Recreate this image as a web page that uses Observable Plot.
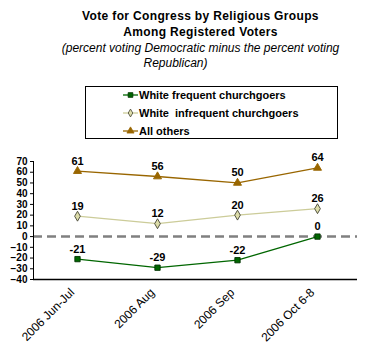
<!DOCTYPE html>
<html><head><meta charset="utf-8">
<script src="https://cdn.jsdelivr.net/npm/d3@7"></script>
<script src="https://cdn.jsdelivr.net/npm/@observablehq/plot@0.6"></script>
<style>
body{margin:0;background:#fff;font-family:Arial,"Liberation Sans",sans-serif;}
#wrap{position:relative;width:365px;height:360px;overflow:hidden;background:#fff;}
.t{position:absolute;width:365px;text-align:center;white-space:nowrap;line-height:14px;color:#000;}
#legend{position:absolute;left:85px;top:86px;width:251px;height:51px;border:1px solid #000;background:#fff;}
.row{position:absolute;left:37px;height:16px;display:flex;align-items:center;font-weight:bold;font-size:11px;white-space:pre;}
.row svg{margin-right:1px;}
#chart{position:absolute;left:0;top:150px;}
</style></head><body>
<div id="wrap">
  <div class="t" style="top:9px;left:18px;font-weight:bold;font-size:12px;letter-spacing:0.35px;">Vote for Congress by Religious Groups</div>
  <div class="t" style="top:25px;left:18px;font-weight:bold;font-size:12px;letter-spacing:0.35px;">Among Registered Voters</div>
  <div class="t" style="top:41px;left:18px;font-style:italic;font-size:12px;">(percent voting Democratic minus the percent voting</div>
  <div class="t" style="top:56px;left:-7px;font-style:italic;font-size:12px;">Republican)</div>
  <div id="legend"></div>
  <div id="chart"></div>
</div>
<script>
const categories = ["2006 Jun-Jul", "2006 Aug", "2006 Sep", "2006 Oct 6-8"];
const seriesNames = ["White frequent churchgoers", "White  infrequent churchgoers", "All others"];
const frequent = [-21, -29, -22, 0];
const infrequent = [19, 12, 20, 26];
const others = [61, 56, 50, 64];
const yTicks = [-40, -30, -20, -10, 0, 10, 20, 30, 40, 50, 60, 70];

const colors = ["#006600", "#CCCC99", "#996600"];
const symbols = ["square", "diamond", "triangle"];
const markerFill = ["#006600", "#DDDDAA", "#996600"];
const markerStroke = ["#003300", "#444433", "#996600"];

const valuesBySeries = [frequent, infrequent, others];
const data = [];
valuesBySeries.forEach((vals, s) => {
  vals.forEach((v, i) => data.push({series: seriesNames[s], s, cat: categories[i], value: v}));
});

// legend
const legend = document.getElementById("legend");
seriesNames.forEach((name, s) => {
  const row = document.createElement("div");
  row.className = "row";
  row.style.top = (0 + s * 18) + "px";
  const sw = d3.create("svg").attr("width", 15).attr("height", 10);
  sw.append("line").attr("x1", 0).attr("x2", 15).attr("y1", 5).attr("y2", 5)
    .attr("stroke", colors[s]).attr("stroke-width", 1.3);
  const sym = d3.symbol().type(s === 0 ? d3.symbolSquare : s === 1 ? d3.symbolDiamond : d3.symbolTriangle)
    .size(s === 1 ? 18 : 22);
  sw.append("path").attr("d", sym()).attr("transform", "translate(7.5,5)")
    .attr("fill", markerFill[s]).attr("stroke", markerStroke[s]).attr("stroke-width", 0.8);
  row.appendChild(sw.node());
  const span = document.createElement("span");
  span.textContent = name;
  row.appendChild(span);
  legend.appendChild(row);
});

const chart = Plot.plot({
  width: 365,
  height: 210,
  marginTop: 11,
  marginBottom: 81,
  marginLeft: 33,
  marginRight: 8,
  style: {fontFamily: "Arial, 'Liberation Sans', sans-serif", background: "#fff", color: "#000"},
  x: {type: "point", domain: categories, range: [76.3, 317.3], padding: 0},
  y: {domain: [-40, 70]},
  color: {domain: seriesNames, range: colors},
  symbol: {domain: seriesNames, range: symbols},
  marks: [
    Plot.ruleY([0], {stroke: "#808080", strokeWidth: 2.5, strokeDasharray: "9,5"}),
    Plot.line(data, {x: "cat", y: "value", z: "series", stroke: "series", strokeWidth: 1.3}),
    Plot.dot(data, {x: "cat", y: "value", symbol: "series", r: 3,
      fill: d => markerFill[d.s], stroke: d => markerStroke[d.s], strokeWidth: 0.9}),
    Plot.text(data, {x: "cat", y: "value", text: d => String(d.value), dy: -10,
      fontWeight: "bold", fontSize: 11, fill: "#000"}),
    Plot.axisY({ticks: yTicks, tickSize: 3, tickPadding: 3, fontWeight: "bold", fontSize: 10,
      style: {letterSpacing: "1px"}, label: null}),
    Plot.axisX({tickSize: 0, tickRotate: -45, fontSize: 12, tickPadding: 10, dx: -5, dy: 1, label: null}),
    Plot.ruleY([-40], {stroke: "#000", strokeWidth: 1.3}),
    Plot.frame({anchor: "left", stroke: "#000", strokeWidth: 1})
  ]
});
document.getElementById("chart").appendChild(chart);
</script>
</body></html>
